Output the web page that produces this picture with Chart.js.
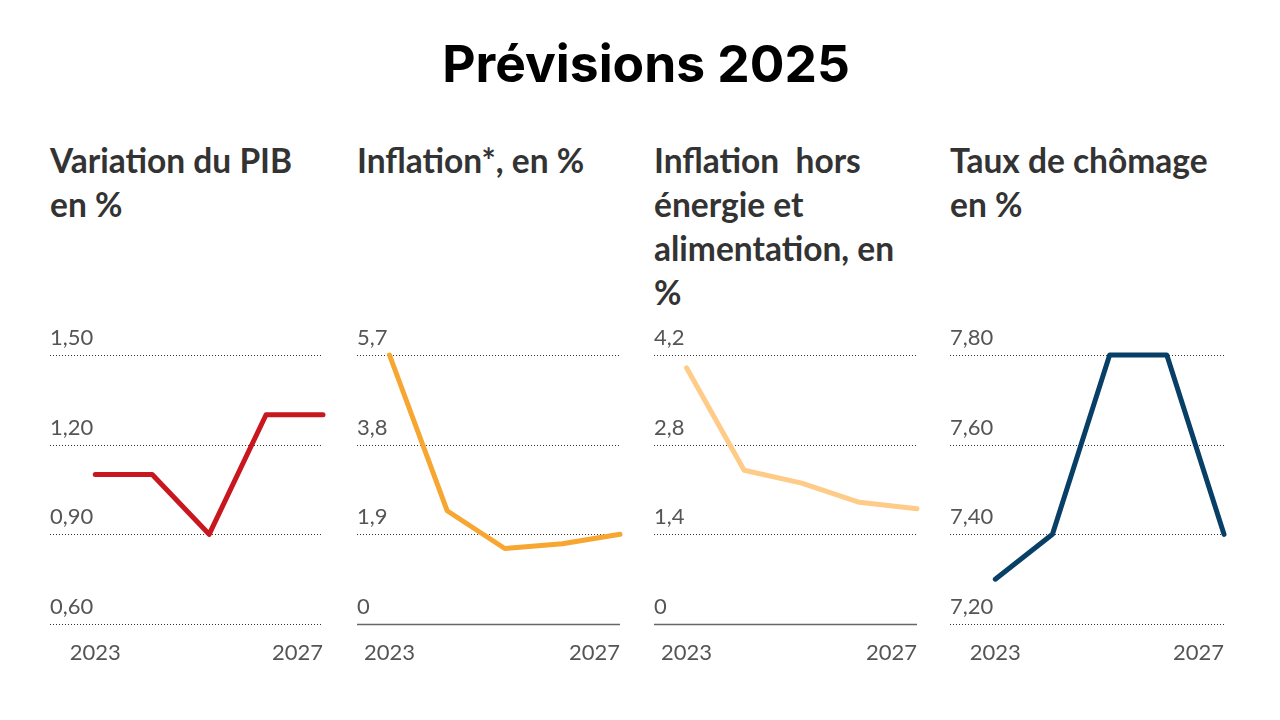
<!DOCTYPE html>
<html lang="fr">
<head>
<meta charset="UTF-8">
<title>Prévisions 2025</title>
<script src="https://cdn.jsdelivr.net/npm/chart.js"></script>
<style>
    body {
        margin: 0;
        width: 1280px;
        height: 720px;
        background: #fff;
        position: relative;
        overflow: hidden;
        font-family: Lato, sans-serif;
    }
    h1 {
        position: absolute;
        top: 38px;
        left: 6px;
        width: 1280px;
        margin: 0;
        text-align: center;
        font-family: Inter, sans-serif;
        font-size: 51.5px;
        line-height: 51.5px;
        font-weight: 700;
        color: #000;
    }
    .panel {
        position: absolute;
        top: 0;
        height: 720px;
    }
    .panel h2 {
        position: absolute;
        top: 138px;
        left: 0;
        margin: 0;
        font-size: 33.5px;
        line-height: 44px;
        font-weight: 700;
        color: #333;
        white-space: pre;
    }
    .panel canvas {
        position: absolute;
        top: 320px;
        left: 0;
    }
</style>
</head>
<body>
    <h1>Prévisions 2025</h1>

    <div class="panel" style="left:50px">
        <h2>Variation du PIB<br>en %</h2>
        <canvas id="pibChart" width="276" height="350"></canvas>
    </div>
    <div class="panel" style="left:357px">
        <h2>Inflation*, en %</h2>
        <canvas id="inflationChart" width="266" height="350"></canvas>
    </div>
    <div class="panel" style="left:654px">
        <h2>Inflation  hors<br>énergie et<br>alimentation, en<br>%</h2>
        <canvas id="sousjacenteChart" width="266" height="350"></canvas>
    </div>
    <div class="panel" style="left:950px">
        <h2>Taux de chômage<br>en %</h2>
        <canvas id="chomageChart" width="277" height="350"></canvas>
    </div>

<script>
    const years = ['2023', '2024', '2025', '2026', '2027'];

    const pib = [1.1, 1.1, 0.9, 1.3, 1.3];
    const inflation = [5.7, 2.4, 1.6, 1.7, 1.9];
    const inflationSousJacente = [4.0, 2.4, 2.2, 1.9, 1.8];
    const chomage = [7.3, 7.4, 7.8, 7.8, 7.4];

    const pibTicks = [0.6, 0.9, 1.2, 1.5];
    const inflationTicks = [0, 1.9, 3.8, 5.7];
    const sousJacenteTicks = [0, 1.4, 2.8, 4.2];
    const chomageTicks = [7.2, 7.4, 7.6, 7.8];

    const labelFont = { family: 'Lato', size: 22 };
    const labelColor = '#555';

    function fmt(v, decimals) {
        if (v === 0) return '0';
        return v.toFixed(decimals).replace('.', ',');
    }

    // dotted gridlines running under the tick labels, plus first/last year
    const decor = {
        id: 'decor',
        beforeDatasetsDraw(chart, args, opts) {
            const ctx = chart.ctx;
            const y = chart.scales.y;
            const area = chart.chartArea;
            ctx.save();
            y.ticks.forEach(t => {
                const py = Math.round(y.getPixelForValue(t.value)) + 0.5;
                ctx.beginPath();
                if (opts.baseline && t.value === 0) {
                    ctx.setLineDash([]);
                    ctx.strokeStyle = '#666';
                    ctx.lineWidth = 1.5;
                } else {
                    ctx.setLineDash([1, 2]);
                    ctx.strokeStyle = '#333';
                    ctx.lineWidth = 1;
                }
                ctx.moveTo(y.left, py);
                ctx.lineTo(area.right, py);
                ctx.stroke();
            });
            ctx.restore();
        },
        afterDraw(chart) {
            const ctx = chart.ctx;
            const x = chart.scales.x;
            const py = chart.chartArea.bottom + 29;
            ctx.save();
            ctx.font = labelFont.size + 'px ' + labelFont.family;
            ctx.fillStyle = labelColor;
            ctx.textBaseline = 'middle';
            ctx.textAlign = 'center';
            ctx.fillText(years[0], x.getPixelForValue(0), py);
            ctx.textAlign = 'right';
            ctx.fillText(years[years.length - 1], x.getPixelForValue(years.length - 1), py);
            ctx.restore();
        }
    };

    function makeChart(id, values, ticks, decimals, color, baseline) {
        return new Chart(document.getElementById(id), {
            type: 'line',
            data: {
                labels: years,
                datasets: [{
                    data: values,
                    borderColor: color,
                    borderWidth: 5,
                    borderCapStyle: 'round',
                    borderJoinStyle: 'round',
                    pointRadius: 0,
                    tension: 0,
                    clip: false
                }]
            },
            options: {
                responsive: false,
                animation: false,
                layout: { padding: { top: 35, right: 3, bottom: 46, left: 0 } },
                plugins: {
                    legend: { display: false },
                    tooltip: { enabled: false },
                    decor: { baseline: baseline }
                },
                scales: {
                    x: { display: false, offset: false },
                    y: {
                        min: ticks[0],
                        max: ticks[ticks.length - 1],
                        afterBuildTicks: s => { s.ticks = ticks.map(v => ({ value: v })); },
                        grid: { display: false, drawTicks: false },
                        border: { display: false },
                        ticks: {
                            crossAlign: 'far',
                            padding: 1,
                            labelOffset: -17,
                            color: labelColor,
                            font: labelFont,
                            callback: v => fmt(v, decimals)
                        }
                    }
                }
            },
            plugins: [decor]
        });
    }

    window.addEventListener('load', () => {
        makeChart('pibChart', pib, pibTicks, 2, '#c8171e', false);
        makeChart('inflationChart', inflation, inflationTicks, 1, '#f7a631', true);
        makeChart('sousjacenteChart', inflationSousJacente, sousJacenteTicks, 1, '#fecc88', true);
        makeChart('chomageChart', chomage, chomageTicks, 2, '#073f66', false);
    });
</script>
</body>
</html>
